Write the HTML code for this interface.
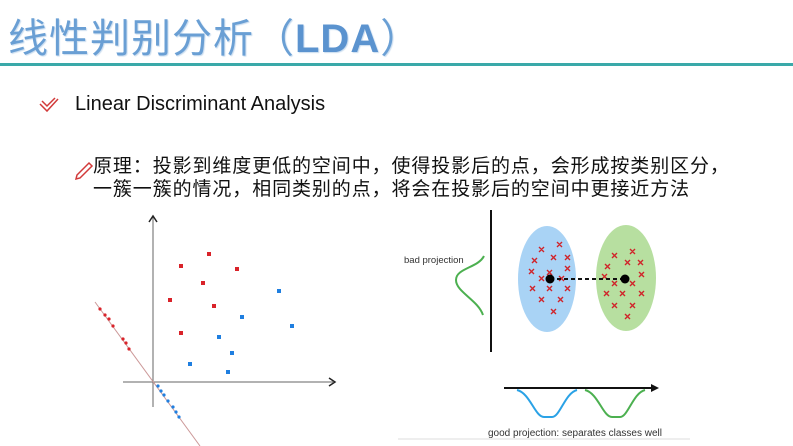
<!DOCTYPE html>
<html><head><meta charset="utf-8"><style>
body{margin:0;width:793px;height:446px;background:#fff;overflow:hidden;position:relative;font-family:"Liberation Sans","Noto Sans CJK SC",sans-serif}
.t{position:absolute;left:8px;top:6px;font-size:40px;color:#6a9fd4;letter-spacing:1px;white-space:nowrap;text-shadow:1px 1px 1px #c9dcef}
.t b{font-weight:bold;color:#5b93cf}
.line{position:absolute;left:0;top:63px;width:793px;height:3px;background:#3aa9a9}
.l1{position:absolute;left:75px;top:93px;font-size:20px;color:#111;white-space:nowrap}
.cn{position:absolute;left:93px;top:155px;font-size:19px;line-height:23px;color:#111;white-space:nowrap;letter-spacing:0.9px}
</style></head><body>
<div class="t">线性判别分析（<b>LDA</b>）</div>
<div class="line"></div>
<svg style="position:absolute;left:0;top:0" width="793" height="446">
<path d="M40 104 L47 111 L58 99 M42 101 L47 106 L55 98" stroke="#d23a3a" stroke-width="1.5" fill="none"/>
<path d="M77 175 L89 163 L92 166 L80 178 L76 179 Z" stroke="#d23a3a" stroke-width="1.5" fill="none"/>
<g stroke="#666" stroke-width="1" fill="none">
<line x1="153" y1="217" x2="153" y2="407"/><line x1="123" y1="382" x2="333" y2="382"/>
<path d="M149 222 L153 216 L157 222" stroke="#222" stroke-width="1.5"/>
<path d="M329 378 L335 382 L329 386" stroke="#222" stroke-width="1.5"/>
<line x1="95" y1="302" x2="200" y2="446" stroke="#c99"/>
</g>
<g fill="#d9232a">
<rect x="207" y="252" width="4" height="4"/><rect x="179" y="264" width="4" height="4"/><rect x="235" y="267" width="4" height="4"/><rect x="201" y="281" width="4" height="4"/><rect x="168" y="298" width="4" height="4"/><rect x="212" y="304" width="4" height="4"/><rect x="179" y="331" width="4" height="4"/>
<circle cx="100" cy="309" r="1.6"/><circle cx="105" cy="315" r="1.6"/><circle cx="109" cy="319" r="1.6"/><circle cx="113" cy="326" r="1.6"/><circle cx="123" cy="339" r="1.6"/><circle cx="126" cy="343" r="1.6"/><circle cx="129" cy="349" r="1.6"/>
</g>
<g fill="#1f7fe0">
<rect x="277" y="289" width="4" height="4"/><rect x="240" y="315" width="4" height="4"/><rect x="290" y="324" width="4" height="4"/><rect x="217" y="335" width="4" height="4"/><rect x="230" y="351" width="4" height="4"/><rect x="188" y="362" width="4" height="4"/><rect x="226" y="370" width="4" height="4"/>
<circle cx="158" cy="386" r="1.6"/><circle cx="161" cy="391" r="1.6"/><circle cx="164" cy="395" r="1.6"/><circle cx="168" cy="401" r="1.6"/><circle cx="173" cy="407" r="1.6"/><circle cx="176" cy="412" r="1.6"/><circle cx="179" cy="417" r="1.6"/>
</g>
<line x1="491" y1="210" x2="491" y2="352" stroke="#111" stroke-width="2"/>
<text x="404" y="263" font-size="9.5" fill="#333">bad projection</text>
<path d="M484 256 C478 268 456 268 456 280 C456 292 478 300 483 315" stroke="#4cb050" stroke-width="2" fill="none"/>
<ellipse cx="547" cy="279" rx="29" ry="53" fill="#a9d3f5"/>
<ellipse cx="626" cy="278" rx="30" ry="53" fill="#b7dfa0"/>
<g stroke="#d0242a" stroke-width="1.4">
<path d="M539 247l5 5m0-5l-5 5M557 242l5 5m0-5l-5 5M532 258l5 5m0-5l-5 5M551 255l5 5m0-5l-5 5M565 255l5 5m0-5l-5 5M529 269l5 5m0-5l-5 5M547 270l5 5m0-5l-5 5M565 266l5 5m0-5l-5 5M539 276l5 5m0-5l-5 5M559 276l5 5m0-5l-5 5M530 286l5 5m0-5l-5 5M547 286l5 5m0-5l-5 5M565 286l5 5m0-5l-5 5M539 297l5 5m0-5l-5 5M558 297l5 5m0-5l-5 5M551 309l5 5m0-5l-5 5"/>
<path d="M612 253l5 5m0-5l-5 5M630 249l5 5m0-5l-5 5M605 264l5 5m0-5l-5 5M625 260l5 5m0-5l-5 5M638 260l5 5m0-5l-5 5M602 274l5 5m0-5l-5 5M639 272l5 5m0-5l-5 5M612 281l5 5m0-5l-5 5M630 281l5 5m0-5l-5 5M604 291l5 5m0-5l-5 5M620 291l5 5m0-5l-5 5M639 291l5 5m0-5l-5 5M612 303l5 5m0-5l-5 5M630 303l5 5m0-5l-5 5M625 314l5 5m0-5l-5 5"/>
</g>
<line x1="550" y1="279" x2="625" y2="279" stroke="#111" stroke-width="2" stroke-dasharray="4,3"/>
<circle cx="550" cy="279" r="4.5" fill="#000"/><circle cx="625" cy="279" r="4.5" fill="#000"/>
<line x1="504" y1="388" x2="652" y2="388" stroke="#111" stroke-width="2"/>
<path d="M651 384 L659 388 L651 392 Z" fill="#111"/>
<path d="M517 390 C530 393 535 417 544 417 L552 417 C560 417 565 393 577 390" stroke="#2aa2e6" stroke-width="2" fill="none"/>
<path d="M585 390 C598 393 603 417 612 417 L620 417 C628 417 633 393 645 390" stroke="#4cb050" stroke-width="2" fill="none"/>
<text x="488" y="436" font-size="10" fill="#333">good projection: separates classes well</text>
<line x1="398" y1="439" x2="690" y2="439" stroke="#ddd" stroke-width="1"/>
</svg>
<div class="l1">Linear Discriminant Analysis</div>
<div class="cn">原理：投影到维度更低的空间中，使得投影后的点，会形成按类别区分，<br>一簇一簇的情况，相同类别的点，将会在投影后的空间中更接近方法</div>
</body></html>
